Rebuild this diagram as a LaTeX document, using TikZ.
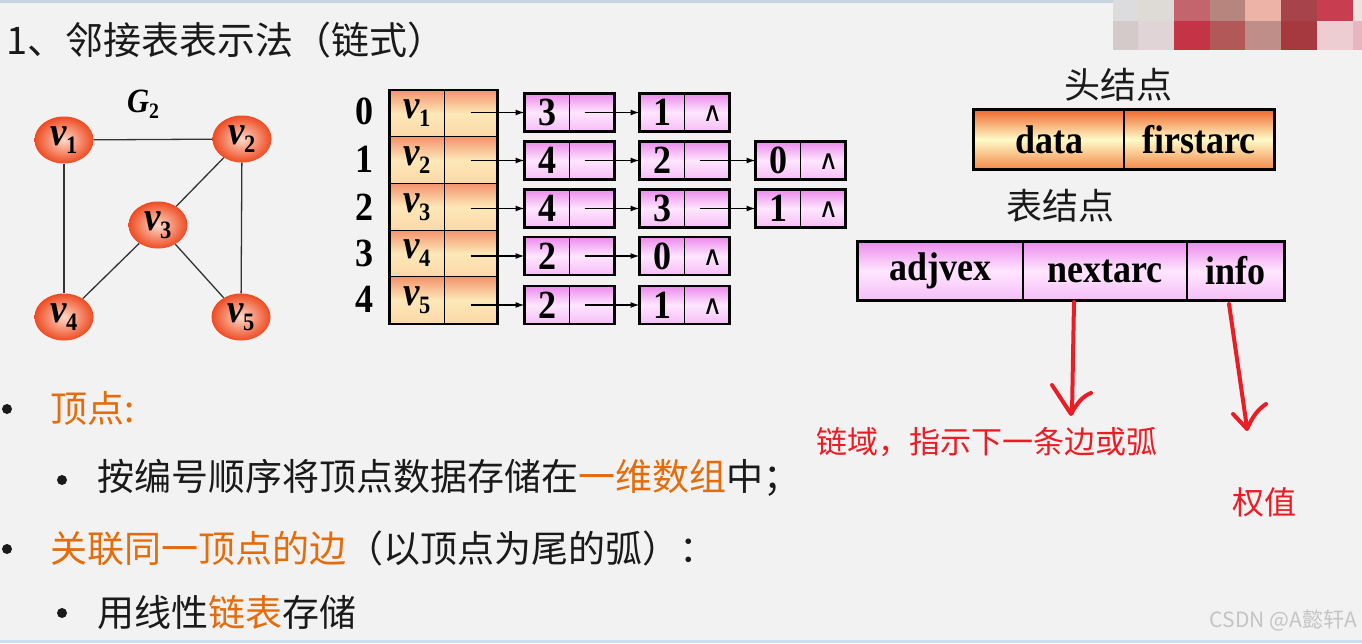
\documentclass[tikz,border=0pt]{standalone}
\usepackage{fontspec}
\newfontfamily\cjk{Noto Sans CJK SC}
\newfontfamily\dvs{DejaVu Sans}
\newfontfamily\tnr[FakeStretch=0.9]{Liberation Serif}
\usetikzlibrary{arrows.meta,shapes.geometric}
\definecolor{bgc}{HTML}{F2F2F2}
\definecolor{orgtxt}{HTML}{E46C0A}
\definecolor{redpen}{HTML}{EC1C24}
\definecolor{hdtop}{HTML}{F06A30}
\definecolor{hdmid}{HTML}{FFFBC8}
\definecolor{hdbot}{HTML}{F38A4A}
\definecolor{artop}{HTML}{F4936C}
\definecolor{armid}{HTML}{FDE8B8}
\definecolor{arbot}{HTML}{FDD8A8}
\definecolor{pktop}{HTML}{EC8CEC}
\definecolor{pkmid}{HTML}{FFE6FF}
\definecolor{pkbot}{HTML}{F6BEF6}
\definecolor{gin}{HTML}{FFD9C8}
\definecolor{gout}{HTML}{EE4B22}
\definecolor{txt}{HTML}{1A1A1A}
\definecolor{topline}{HTML}{C7D3E0}
\definecolor{botline}{HTML}{C9E0F2}
\definecolor{wmark}{HTML}{C4C4C4}
\newcommand\vlab[1]{{\tnr\bfseries\itshape\fontsize{41}{41}\selectfont v\kern-1pt\raisebox{-8pt}{\fontsize{25}{25}\selectfont\upshape #1}}}
\newcommand\listnode[4]{%
  \node[lcell,minimum width=44pt] (#1a) at (#2+22,#3) {#4};
  \node[lcell,minimum width=45pt] (#1b) at (#2+66.5,#3) {};
  \draw[outl] (#1a.north west) rectangle (#1b.south east);}
\begin{document}
\begin{tikzpicture}[x=1pt,y=-1pt,
  gnode/.style={ellipse,minimum width=59pt,minimum height=47pt,inner sep=0pt,inner color=gin,outer color=gout},
  gedge/.style={draw=black!80,line width=1.3pt},
  acell/.style={rectangle,draw,line width=1pt,inner sep=0pt,minimum height=46.6pt,top color=artop,bottom color=arbot,middle color=armid},
  lcell/.style={rectangle,draw,line width=1pt,inner sep=0pt,minimum height=37pt,top color=pktop,bottom color=pkbot,middle color=pkmid,font=\tnr\bfseries\fontsize{40}{40}\selectfont},
  hcell/.style={rectangle,draw,line width=1.8pt,inner sep=0pt,minimum height=59pt,top color=hdtop,bottom color=hdbot,middle color=hdmid,font=\tnr\bfseries\fontsize{40}{40}\selectfont},
  tcell/.style={rectangle,draw,line width=1.8pt,inner sep=0pt,minimum height=58pt,top color=pktop,bottom color=pkbot,middle color=pkmid,font=\tnr\bfseries\fontsize{40}{40}\selectfont},
  outl/.style={draw,line width=2.4pt},
  ptr/.style={-{Latex[length=9pt,width=6pt]},line width=1.4pt},
  idx/.style={font=\tnr\bfseries\fontsize{40}{40}\selectfont},
  nil/.style={font=\dvs\fontsize{27}{27}\selectfont,inner sep=0pt},
  cjkt/.style={anchor=west,font=\cjk\fontsize{37}{37}\selectfont,text=txt,inner sep=0pt},
  dot/.style={circle,fill=txt,inner sep=0pt,minimum size=10pt},
  redpenline/.style={draw=redpen,line width=4pt,line cap=round,line join=round},
  rednote/.style={anchor=west,font=\cjk\fontsize{31}{31}\selectfont,text=redpen,inner sep=0pt}]
\useasboundingbox (0,0) rectangle (1362,643);
\fill[bgc] (0,0) rectangle (1362,643);
\fill[topline] (0,0) rectangle (1113,2.5);
\fill[botline] (0,640) rectangle (1362,643);
% mosaic
\foreach \xa/\xb/\r/\g/\b in {1113/1138/220/219/221,1138/1174/222/218/214,1174/1210/196/100/108,1210/1245/181/133/126,1245/1281/237/179/166,1281/1317/166/67/75,1317/1353/201/61/80,1353/1362/237/228/226}
  \fill[fill={rgb,255:red,\r;green,\g;blue,\b}] (\xa,0) rectangle (\xb,21);
\foreach \xa/\xb/\r/\g/\b in {1113/1138/211/203/201,1138/1174/224/212/214,1174/1210/195/53/70,1210/1245/178/88/88,1245/1281/192/142/137,1281/1317/165/57/63,1317/1353/237/205/210,1353/1362/232/182/190}
  \fill[fill={rgb,255:red,\r;green,\g;blue,\b}] (\xa,21) rectangle (\xb,50);
% title
\node[anchor=west,font=\cjk\fontsize{38}{38}\selectfont,text=txt,inner sep=0pt] (title) at (6,40) {1、邻接表表示法（链式）};
% graph
\node[font=\tnr\bfseries\itshape\fontsize{34}{34}\selectfont] (glab) at (143,104) {G\raisebox{-6pt}{\fontsize{22}{22}\selectfont\upshape 2}};
\node[gnode] (v1) at (64,140) {\vlab{1}};
\node[gnode] (v2) at (242,139) {\vlab{2}};
\node[gnode] (v3) at (158,225) {\vlab{3}};
\node[gnode] (v4) at (64,317) {\vlab{4}};
\node[gnode] (v5) at (241,317) {\vlab{5}};
\draw[gedge] (v1) -- (v2);
\draw[gedge] (v1) -- (v4);
\draw[gedge] (v2) -- (v3);
\draw[gedge] (v2) -- (v5);
\draw[gedge] (v3) -- (v4);
\draw[gedge] (v3) -- (v5);
% array
\foreach \i/\y in {0/113.5,1/160.1,2/206.7,3/253.3,4/299.9}{
  \pgfmathtruncatemacro{\k}{\i+1}
  \node[acell,minimum width=54pt] (a\i v) at (417,\y) {\raisebox{3pt}{\vlab{\k}}};
  \node[acell,minimum width=53pt] (a\i p) at (470.5,\y) {};
}
\draw[outl] (a0v.north west) rectangle (a4p.south east);
\node[idx] (i0) at (364,111) {0};
\node[idx] (i1) at (364,159) {1};
\node[idx] (i2) at (364,207) {2};
\node[idx] (i3) at (364,253) {3};
\node[idx] (i4) at (364,299) {4};
% list nodes
\listnode{l01}{525}{112.5}{3}
\listnode{l02}{640}{112.5}{1}
\listnode{l11}{525}{160.5}{4}
\listnode{l12}{640}{160.5}{2}
\listnode{l13}{756}{160.5}{0}
\listnode{l21}{525}{208.5}{4}
\listnode{l22}{640}{208.5}{3}
\listnode{l23}{756}{208.5}{1}
\listnode{l31}{525}{256}{2}
\listnode{l32}{640}{256}{0}
\listnode{l41}{525}{305}{2}
\listnode{l42}{640}{305}{1}
\node[nil] (n0) at ([xshift=6pt,yshift=-1.5pt]l02b.center) {∧};
\node[nil] (n1) at ([xshift=6pt,yshift=-1.5pt]l13b.center) {∧};
\node[nil] (n2) at ([xshift=6pt,yshift=-1.5pt]l23b.center) {∧};
\node[nil] (n3) at ([xshift=6pt,yshift=-1.5pt]l32b.center) {∧};
\node[nil] (n4) at ([xshift=6pt,yshift=-1.5pt]l42b.center) {∧};
% pointers
\draw[ptr] (a0p.center |- l01a.west) -- (l01a.west);
\draw[ptr] (a1p.center |- l11a.west) -- (l11a.west);
\draw[ptr] (a2p.center |- l21a.west) -- (l21a.west);
\draw[ptr] (a3p.center |- l31a.west) -- (l31a.west);
\draw[ptr] (a4p.center |- l41a.west) -- (l41a.west);
\draw[ptr] ([xshift=-7pt]l01b.center) -- (l02a.west);
\draw[ptr] ([xshift=-7pt]l11b.center) -- (l12a.west);
\draw[ptr] ([xshift=-7pt]l12b.center) -- (l13a.west);
\draw[ptr] ([xshift=-7pt]l21b.center) -- (l22a.west);
\draw[ptr] ([xshift=-7pt]l22b.center) -- (l23a.west);
\draw[ptr] ([xshift=-7pt]l31b.center) -- (l32a.west);
\draw[ptr] ([xshift=-7pt]l41b.center) -- (l42a.west);
% head node
\node[font=\cjk\fontsize{36}{36}\selectfont,text=txt] (hlab) at (1118,85) {头结点};
\node[hcell,minimum width=150pt] (hd) at (1049,139.5) {data};
\node[hcell,minimum width=150pt] (hf) at (1199,139.5) {firstarc};
\draw[outl] (hd.north west) rectangle (hf.south east);
% table node
\node[font=\cjk\fontsize{36}{36}\selectfont,text=txt] (tlab) at (1060,206) {表结点};
\node[tcell,minimum width=165pt] (ta) at (940.5,271) {adjvex};
\node[tcell,minimum width=164pt] (tn) at (1105,271) {nextarc};
\node[tcell,minimum width=97pt] (ti) at (1235.5,271) {info};
\draw[outl] (ta.north west) rectangle (ti.south east);
% red annotations
\draw[redpenline] (1074,302) -- (1072,413);
\draw[redpenline] (1052,385) -- (1071,414) .. controls (1077,403) and (1083,396) .. (1091,393);
\draw[redpenline] (1229,304) -- (1247,428);
\draw[redpenline] (1233,414) -- (1247,429) .. controls (1252,418) and (1257,410) .. (1266,404);
\node[rednote] (note1) at (816,442) {链域，指示下一条边或弧};
\node[rednote,font=\cjk\fontsize{32}{32}\selectfont] (note2) at (1232,502) {权值};
% bullets
\node[dot] (d1) at (7,409) {};
\node[cjkt] (b1) at (50,408) {\color{orgtxt}顶点:};
\node[dot] (d2) at (62,480) {};
\node[cjkt] (b2) at (97,478) {按编号顺序将顶点数据存储在\textcolor{orgtxt}{一维数组}中；};
\node[dot] (d3) at (7,549) {};
\node[cjkt] (b3) at (50,548) {\textcolor{orgtxt}{关联同一顶点的边}（以顶点为尾的弧）：};
\node[dot] (d4) at (62,613) {};
\node[cjkt] (b4) at (97,612) {用线性\textcolor{orgtxt}{链表}存储};
% watermark
\node[anchor=east,font=\cjk\fontsize{21}{21}\selectfont,text=wmark,inner sep=0pt] (wm) at (1357,620) {CSDN @A懿轩A};
\end{tikzpicture}
\end{document}
